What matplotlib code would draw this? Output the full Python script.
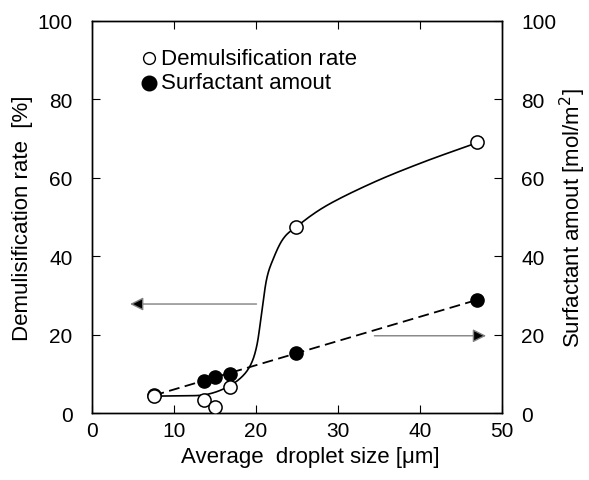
import numpy as np
import matplotlib
matplotlib.use("Agg")
import matplotlib.pyplot as plt

plt.rcParams["font.family"] = ["Liberation Sans", "DejaVu Sans"]

# measured points
size_demul = [7.5, 13.6, 15.0, 16.8, 24.9, 47.0]
demul_rate = [4.3, 3.4, 1.6, 6.7, 47.4, 69.2]

size_surf = [7.5, 13.6, 15.0, 16.8, 24.9, 47.0]
surf_amount = [4.6, 8.2, 9.1, 10.0, 15.3, 28.9]

# hand-drawn guide curve for the demulsification rate
guide_x = [7.4, 10.5, 13.6, 16.0, 18.0, 19.3, 20.1, 20.7, 21.3, 22.1, 23.3, 24.9, 28.6, 34.3, 40.4, 46.9]
guide_y = [4.3, 4.4, 4.6, 6.1, 8.7, 12.1, 17.2, 25.7, 34.2, 39.3, 44.4, 47.5, 52.9, 58.8, 64.0, 68.9]

FS_TICK = 15
FS_LABEL = 16


def catmull_rom(xs, ys, n=20):
    p = np.column_stack([xs, ys])
    p = np.vstack([p[0], p, p[-1]])
    out = []
    t = np.linspace(0, 1, n, endpoint=False)[:, None]
    for i in range(1, len(p) - 2):
        p0, p1, p2, p3 = p[i - 1], p[i], p[i + 1], p[i + 2]
        seg = 0.5 * ((2 * p1) + (-p0 + p2) * t + (2 * p0 - 5 * p1 + 4 * p2 - p3) * t ** 2
                     + (-p0 + 3 * p1 - 3 * p2 + p3) * t ** 3)
        out.append(seg)
    out.append(p[-2][None, :])
    out = np.vstack(out)
    return out[:, 0], out[:, 1]


fig = plt.figure(figsize=(5.89, 4.81), dpi=100)
ax = fig.add_axes([92 / 589, 1 - 414 / 481, 410 / 589, 392 / 481])
ax2 = ax.twinx()

cx, cy = catmull_rom(guide_x, guide_y)
ax.plot(cx, cy, color="black", lw=1.2, zorder=2)

coef = np.polyfit(size_surf, surf_amount, 1)
fx = np.array([size_surf[0], size_surf[-1]])
ax2.plot(fx, np.polyval(coef, fx), color="black", lw=1.3, ls=(0, (6, 3)), zorder=2)
ax2.plot(size_surf, surf_amount, "o", ms=9.5, mfc="black", mec="black", zorder=3)

ax.plot(size_demul, demul_rate, "o", ms=9.5, mfc="white", mec="black", mew=1.1, zorder=4)
ax.set_zorder(ax2.get_zorder() + 1)
ax.patch.set_visible(False)

for a in (ax, ax2):
    a.set_xlim(0, 50)
    a.set_ylim(0, 100)
    a.set_yticks([0, 20, 40, 60, 80, 100])

ax.set_xticks([0, 10, 20, 30, 40, 50])
ax.tick_params(axis="x", direction="in", length=6, top=True, pad=6, labelsize=FS_TICK)
ax.tick_params(axis="y", direction="in", length=6, pad=14, labelsize=FS_TICK)
ax2.tick_params(axis="y", direction="in", length=6, pad=14, labelsize=FS_TICK)
for a in (ax, ax2):
    for s in a.spines.values():
        s.set_linewidth(1.0)

ax.set_xlabel("Average  droplet size [μm]", fontsize=FS_LABEL, labelpad=1)
ax.xaxis.set_label_coords(0.532, -0.085)
ax.set_ylabel("Demulisification rate  [%]", fontsize=FS_LABEL, labelpad=3)
ax2.set_ylabel("Surfactant amout [mol/m$^2$]", fontsize=FS_LABEL, labelpad=1)

# arrows pointing to the relevant axis
arrow = dict(arrowstyle="-|>", ec="#808080", fc="black", lw=1.0, mutation_scale=20)
ax.annotate("", xy=(4.3, 27.8), xytext=(20.4, 27.8), arrowprops=arrow)
ax.annotate("", xy=(48.4, 19.7), xytext=(34.1, 19.7), arrowprops=arrow)

# legend
ax.plot([7.0], [90.5], "o", ms=8.5, mfc="white", mec="black", mew=1.0)
ax.plot([7.0], [84.2], "o", ms=10.5, mfc="black", mec="black")
ax.text(8.4, 90.5, "Demulsification rate", fontsize=FS_LABEL, va="center", ha="left")
ax.text(8.4, 84.2, "Surfactant amout", fontsize=FS_LABEL, va="center", ha="left")

fig.savefig("out.png", dpi=100)
